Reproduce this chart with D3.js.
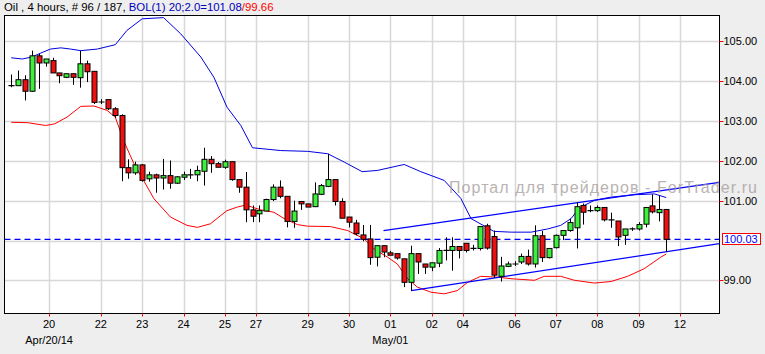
<html>
  <meta charset="utf-8" />
  <script src="https://d3js.org/d3.v7.min.js"></script>
  <style>
    body { margin: 0; background: #eeeeee; }
    svg { display: block; font-family: "Liberation Sans", Arial, sans-serif; }
  </style>
  <body>
    <svg width="765" height="354" id="svg_Oil"></svg>

    <script>
      // 4h candles, Apr 20 - May 12 2014
      const opens = [103.89, 103.89, 104.04, 103.75, 104.64, 104.46, 104.52, 104.21, 104.10, 104.19,
        104.09, 104.44, 104.25, 103.48, 103.54, 103.31, 103.14, 101.83, 101.70, 101.90,
        101.55, 101.65, 101.57, 101.63, 101.44, 101.59, 101.65, 101.65, 101.74, 102.04,
        101.93, 101.84, 101.98, 101.53, 101.34, 100.77, 100.67, 100.74, 101.03, 101.34,
        101.11, 100.48, 100.98, 100.92, 100.85, 101.16, 101.36, 101.53, 100.98, 100.59,
        100.44, 100.14, 100.04, 99.58, 99.87, 99.69, 99.67, 99.54, 98.95, 99.67,
        99.41, 99.33, 99.43, 99.75, 99.75, 99.85, 99.93, 99.80, 99.80, 100.37,
        100.10, 99.10, 99.35, 99.40, 99.46, 99.60, 99.41, 100.12, 99.57, 99.82,
        100.13, 100.25, 100.32, 100.88, 100.75, 100.75, 100.83, 100.52, 100.49, 100.13,
        100.29, 100.29, 100.41, 100.87, 100.70, 100.78];
      const highs = [104.17, 104.27, 104.15, 104.77, 104.69, 104.56, 104.59, 104.21, 104.20, 104.20,
        104.77, 104.52, 104.25, 103.55, 103.54, 103.35, 103.17, 102.04, 101.98, 101.92,
        101.73, 101.68, 102.05, 102.01, 101.62, 101.73, 101.80, 101.88, 102.33, 102.12,
        101.97, 102.03, 101.98, 101.53, 101.72, 100.88, 100.88, 101.05, 101.41, 101.51,
        101.11, 101.00, 100.98, 100.92, 101.46, 101.42, 102.18, 101.53, 101.06, 100.59,
        100.52, 100.39, 100.39, 99.87, 99.87, 99.74, 99.67, 99.54, 99.87, 99.67,
        99.41, 99.44, 99.81, 100.08, 100.08, 99.85, 99.93, 99.89, 100.35, 100.42,
        100.25, 99.59, 99.47, 99.48, 99.67, 99.77, 100.38, 100.24, 99.80, 100.15,
        100.25, 100.55, 100.96, 100.93, 100.88, 100.88, 100.83, 100.70, 100.49, 100.29,
        100.33, 100.46, 100.84, 101.16, 101.13, 100.78];
      const lows = [103.85, 103.89, 103.52, 103.73, 103.81, 104.37, 104.21, 103.95, 104.08, 103.91,
        103.84, 103.98, 103.43, 103.43, 103.28, 103.08, 101.49, 101.55, 101.65, 101.48,
        101.48, 101.20, 101.28, 101.30, 101.42, 101.52, 101.55, 101.49, 101.38, 101.70,
        101.84, 101.80, 101.50, 101.20, 100.46, 100.46, 100.46, 100.74, 100.99, 101.06,
        100.33, 100.32, 100.77, 100.84, 100.84, 101.14, 101.34, 100.88, 100.56, 100.33,
        100.13, 99.98, 99.39, 99.35, 99.58, 99.63, 99.52, 98.83, 98.74, 99.16,
        99.16, 99.23, 99.33, 99.50, 99.24, 99.55, 99.70, 99.75, 99.75, 99.77,
        99.06, 98.97, 99.33, 99.36, 99.41, 99.37, 99.32, 99.46, 99.55, 99.80,
        100.01, 100.22, 99.80, 100.40, 100.71, 100.72, 100.48, 100.32, 99.86, 99.89,
        100.24, 100.25, 100.33, 100.68, 100.48, 99.71];
      const closes = [103.89, 104.04, 103.75, 104.64, 104.46, 104.56, 104.21, 104.14, 104.19, 104.10,
        104.44, 104.24, 103.47, 103.48, 103.31, 103.14, 101.83, 101.70, 101.90, 101.51,
        101.65, 101.57, 101.63, 101.44, 101.60, 101.65, 101.65, 101.76, 102.04, 101.93,
        101.84, 101.98, 101.53, 101.34, 100.77, 100.61, 100.75, 101.03, 101.34, 101.11,
        100.48, 100.74, 100.92, 100.84, 101.17, 101.38, 101.53, 100.98, 100.56, 100.46,
        100.17, 100.03, 99.57, 99.87, 99.71, 99.63, 99.56, 98.95, 99.67, 99.46,
        99.33, 99.44, 99.75, 99.75, 99.85, 99.75, 99.75, 99.80, 100.35, 99.81,
        99.13, 99.36, 99.41, 99.41, 99.60, 99.41, 100.12, 99.57, 99.80, 100.13,
        100.25, 100.45, 100.85, 100.71, 100.75, 100.83, 100.52, 100.52, 100.09, 100.29,
        100.29, 100.40, 100.83, 100.72, 100.78, 100.03];

      // Bollinger 20;2.0 bands as [bar, price] points
      const upperBand = [[0, 104.59], [1.6, 104.56], [3, 104.61], [4.3, 104.71], [5.7, 104.81],
        [7.2, 104.84], [8.6, 104.81], [10.1, 104.77], [12.5, 104.81], [15.1, 104.92],
        [16.8, 105.28], [19, 105.57], [22.1, 105.6], [24.6, 105.19], [27.5, 104.61],
        [29.4, 104.1], [31.3, 103.35], [33.3, 102.89], [35, 102.33], [39.1, 102.26],
        [43, 102.24], [45.9, 102.18], [48.3, 101.97], [50.9, 101.73], [53.1, 101.76],
        [57, 101.91], [59.4, 101.73], [62.8, 101.51], [65.2, 101.06], [66.7, 100.55],
        [70, 100.23], [72.5, 100.21], [75.4, 100.21], [77.8, 100.29], [79.7, 100.38],
        [81.2, 100.55], [82.1, 100.75], [83.1, 100.88], [84.6, 101.01], [87, 101.09],
        [90.4, 101.15], [93.3, 101.17], [95, 101.08]];
      const lowerBand = [[0, 102.97], [2.4, 102.96], [5, 102.89], [6.3, 102.93], [8.1, 103.1],
        [10.1, 103.37], [12, 103.38], [13.9, 103.27], [15.1, 103.1], [16.3, 102.51],
        [17.8, 101.93], [19.2, 101.51], [20.7, 101.05], [23.1, 100.59], [25.5, 100.38],
        [27, 100.33], [28.9, 100.42], [30.4, 100.63], [31.3, 100.75], [32.8, 100.84],
        [34, 100.89], [36.2, 100.77], [38.1, 100.71], [39.6, 100.55], [41.5, 100.4],
        [43, 100.36], [46.3, 100.35], [48.8, 100.25], [51.2, 100.04], [52.6, 99.79],
        [54.6, 99.58], [56, 99.41], [57.5, 99.04], [58.9, 98.83], [60.9, 98.7],
        [62.8, 98.66], [64.7, 98.74], [66.2, 98.95], [68.1, 99.1], [70.5, 99.08],
        [72.5, 99.04], [75.9, 99.0], [77.3, 99.1], [79.7, 99.1], [81.7, 99.0],
        [84.6, 98.93], [87, 98.97], [89.4, 99.1], [91.8, 99.29], [94.2, 99.58], [95, 99.66]];

      // hand drawn channel
      const channelUpper = [[54, 100.25], [102.7, 101.46]];
      const channelLower = [[58, 98.74], [102.7, 99.92]];

      const lastPrice = 100.03;
      const priceTicks = [99, 101, 102, 103, 104, 105];
      const priceGrid = [99, 100, 101, 102, 103, 104, 105];
      const dayTicks = [5.5, 13, 19, 25, 31, 35.5, 43, 49, 55, 61, 65.5, 73, 79, 85, 91, 97];
      const dayLabels = ["20", "22", "23", "24", "25", "27", "29", "30", "01", "02", "04", "06", "07", "08", "09", "12"];
      const monthTicks = [5.5, 55];
      const monthLabels = ["Apr/20/14", "May/01"];

      const plotLeft = 4.5, plotRight = 719.5, plotTop = 15.5, plotBottom = 313.5;

      const svg = d3.select("#svg_Oil");

      const x = d3.scaleLinear().domain([-0.97, 102.73]).range([plotLeft, plotRight]);
      const y = d3.scaleLinear().domain([98.166, 105.653]).range([plotBottom, plotTop]);

      svg.append("defs").append("clipPath").attr("id", "plotClip")
        .append("rect").attr("x", plotLeft).attr("y", plotTop)
        .attr("width", plotRight - plotLeft).attr("height", plotBottom - plotTop);

      svg.append("rect")
        .attr("x", plotLeft).attr("y", plotTop)
        .attr("width", plotRight - plotLeft).attr("height", plotBottom - plotTop)
        .attr("fill", "#ffffff");

      // grid
      svg.append("g").selectAll("line").data(priceGrid).enter().append("line")
        .attr("x1", plotLeft).attr("x2", plotRight)
        .attr("y1", (d) => Math.round(y(d)) + 0.5).attr("y2", (d) => Math.round(y(d)) + 0.5)
        .attr("stroke", "#d8d8d8").attr("stroke-width", 1.5);
      svg.append("g").selectAll("line").data(dayTicks).enter().append("line")
        .attr("x1", (d) => Math.round(x(d)) + 0.5).attr("x2", (d) => Math.round(x(d)) + 0.5)
        .attr("y1", plotTop).attr("y2", plotBottom)
        .attr("stroke", "#d8d8d8").attr("stroke-width", 1.5);

      const plot = svg.append("g").attr("clip-path", "url(#plotClip)");

      const line = d3.line().x((d) => x(d[0])).y((d) => y(d[1]));

      plot.append("path").datum(upperBand).attr("d", line)
        .attr("fill", "none").attr("stroke", "#0000e0").attr("stroke-width", 1);
      plot.append("path").datum(lowerBand).attr("d", line)
        .attr("fill", "none").attr("stroke", "#ff0000").attr("stroke-width", 1);

      // last price dashed line
      plot.append("line")
        .attr("x1", plotLeft).attr("x2", plotRight)
        .attr("y1", y(lastPrice)).attr("y2", y(lastPrice))
        .attr("stroke", "#0000ff").attr("stroke-width", 1.2)
        .attr("stroke-dasharray", "6,4");

      plot.append("path").datum(channelUpper).attr("d", line)
        .attr("fill", "none").attr("stroke", "#0000ff").attr("stroke-width", 1.2);
      plot.append("path").datum(channelLower).attr("d", line)
        .attr("fill", "none").attr("stroke", "#0000ff").attr("stroke-width", 1.2);

      // candles
      const bars = d3.range(opens.length);
      const candles = plot.append("g").selectAll("g").data(bars).enter().append("g");
      candles.append("line")
        .attr("x1", (i) => Math.round(x(i)) + 0.5).attr("x2", (i) => Math.round(x(i)) + 0.5)
        .attr("y1", (i) => y(highs[i])).attr("y2", (i) => y(lows[i]))
        .attr("stroke", "#000000").attr("stroke-width", 1);
      candles.append("rect")
        .attr("x", (i) => Math.round(x(i)) - 2)
        .attr("y", (i) => y(Math.max(opens[i], closes[i])))
        .attr("width", 5)
        .attr("height", (i) => Math.abs(y(opens[i]) - y(closes[i])))
        .attr("fill", (i) => (closes[i] > opens[i] ? "#3cf03c" : "#ee1010"))
        .attr("stroke", "#000000").attr("stroke-width", 1)
        .attr("display", (i) => (Math.abs(opens[i] - closes[i]) < 0.02 ? "none" : null));
      candles.filter((i) => Math.abs(opens[i] - closes[i]) < 0.02).append("line")
        .attr("x1", (i) => Math.round(x(i)) - 2.5).attr("x2", (i) => Math.round(x(i)) + 3.5)
        .attr("y1", (i) => y(closes[i])).attr("y2", (i) => y(closes[i]))
        .attr("stroke", "#000000").attr("stroke-width", 1.2);

      // frame
      svg.append("rect")
        .attr("x", plotLeft).attr("y", plotTop)
        .attr("width", plotRight - plotLeft).attr("height", plotBottom - plotTop)
        .attr("fill", "none").attr("stroke", "#000000").attr("stroke-width", 1);

      // right axis
      const yAxis = svg.append("g");
      yAxis.selectAll("line").data(priceTicks).enter().append("line")
        .attr("x1", plotRight).attr("x2", plotRight + 4)
        .attr("y1", (d) => Math.round(y(d)) + 0.5).attr("y2", (d) => Math.round(y(d)) + 0.5)
        .attr("stroke", "#ff0000");
      yAxis.selectAll("text").data(priceTicks).enter().append("text")
        .attr("x", plotRight + 4).attr("y", (d) => y(d) + 4)
        .attr("font-size", 11).attr("fill", "#000000")
        .text((d) => d.toFixed(2));

      svg.append("rect")
        .attr("x", 722.5).attr("y", Math.round(y(lastPrice)) - 5.5)
        .attr("width", 38).attr("height", 11)
        .attr("fill", "#ffffff").attr("stroke", "#ff0000").attr("stroke-width", 1);
      svg.append("text")
        .attr("x", 724).attr("y", y(lastPrice) + 4)
        .attr("font-size", 11).attr("fill", "#0000ff")
        .text(lastPrice.toFixed(2));

      // bottom axis
      const xAxis = svg.append("g");
      xAxis.selectAll("line").data(dayTicks).enter().append("line")
        .attr("x1", (d) => Math.round(x(d)) + 0.5).attr("x2", (d) => Math.round(x(d)) + 0.5)
        .attr("y1", plotBottom).attr("y2", plotBottom + 3)
        .attr("stroke", "#ff0000");
      xAxis.selectAll(".day").data(dayTicks).enter().append("text")
        .attr("class", "day")
        .attr("x", (d) => x(d)).attr("y", 328)
        .attr("text-anchor", "middle").attr("font-size", 11)
        .text((d, i) => dayLabels[i]);
      xAxis.selectAll(".month").data(monthTicks).enter().append("text")
        .attr("class", "month")
        .attr("x", (d) => x(d)).attr("y", 344)
        .attr("text-anchor", "middle").attr("font-size", 11)
        .text((d, i) => monthLabels[i]);

      // header
      const title = svg.append("text").attr("x", 4).attr("y", 11).attr("font-size", 11.4);
      title.append("tspan").attr("fill", "#000000").text("Oil , 4 hours, # 96 / 187, ");
      title.append("tspan").attr("fill", "#0000c0").text("BOL(1) 20;2.0=101.08");
      title.append("tspan").attr("fill", "#ff0000").text("/99.66");

      // watermark
      svg.append("text")
        .attr("x", 449).attr("y", 193)
        .attr("font-size", 16).attr("fill", "#a39a98").attr("opacity", 0.75)
        .attr("textLength", 308)
        .text("Портал для трейдеров - ForTrader.ru");
    </script>
  </body>
</html>
